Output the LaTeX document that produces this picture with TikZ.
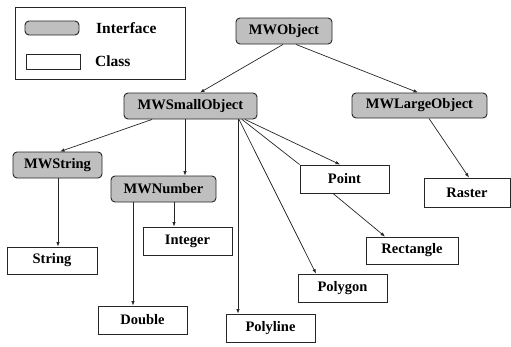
\documentclass[tikz,border=0pt]{standalone}
\usepackage{fontspec}
\IfFontExistsTF{LiberationSerif-Bold.ttf}
  {\newfontfamily\lsb{LiberationSerif-Bold.ttf}}
  {\IfFontExistsTF{TeX Gyre Termes}{\newfontfamily\lsb{TeX Gyre Termes}[UprightFont=*-Bold]}{\newcommand\lsb{\bfseries}}}
\usetikzlibrary{arrows.meta}
\tikzset{
  box/.style={draw=black!85, line width=0.9pt, inner sep=0pt, anchor=center,
    font=\lsb\fontsize{14.5}{16}\selectfont},
  iface/.style={box, fill=black!25, rounded corners=4pt},
  cls/.style={box, fill=white},
  conn/.style={draw=black!85, line width=0.7pt},
  arr/.style={conn, -{Latex[length=4.5pt,width=3.5pt]}},
  legtext/.style={anchor=west, inner sep=0pt, font=\lsb\fontsize{15.5}{17}\selectfont}
}
\begin{document}
\begin{tikzpicture}[x=1pt,y=-1pt]
\useasboundingbox (0,0) rectangle (511,346);
% legend
\node[draw=black!85, line width=0.9pt, minimum width=170pt, minimum height=72pt, inner sep=0pt] (legend) at (100,43) {};
\node[iface, minimum width=54pt, minimum height=14pt] (legI) at (52,28) {};
\node[cls, minimum width=54pt, minimum height=15pt] (legC) at (53,61.5) {};
\node[legtext] (legIt) at (96,28) {Interface};
\node[legtext] (legCt) at (95,61.5) {Class};
% nodes
\node[iface, minimum width=96pt, minimum height=26pt] (obj) at (284,31) {MWObject};
\node[iface, minimum width=133pt, minimum height=26pt] (small) at (190.5,106) {MWSmallObject};
\node[iface, minimum width=135pt, minimum height=25pt] (large) at (419.5,105.5) {MWLargeObject};
\node[iface, minimum width=89pt, minimum height=26pt] (mwstr) at (57.5,165) {MWString};
\node[iface, minimum width=105pt, minimum height=26pt] (mwnum) at (163.5,189) {MWNumber};
\node[cls, minimum width=90pt, minimum height=27pt] (str) at (52,260.5) {String};
\node[cls, minimum width=89pt, minimum height=28pt] (int) at (187.5,241) {Integer};
\node[cls, minimum width=89pt, minimum height=28pt] (dbl) at (142.5,320) {Double};
\node[cls, minimum width=89pt, minimum height=28pt] (pline) at (270.5,328) {Polyline};
\node[cls, minimum width=89pt, minimum height=28pt] (pgon) at (342.5,288) {Polygon};
\node[cls, minimum width=89pt, minimum height=28pt] (point) at (344.5,179) {Point};
\node[cls, minimum width=92pt, minimum height=27pt] (rect) at (412,250.5) {Rectangle};
\node[cls, minimum width=86pt, minimum height=29pt] (raster) at (467,192.5) {Raster};
% connectors
\draw[arr] ([xshift=-1pt]obj.south) -- ([xshift=9.5pt]small.north);
\draw[arr] ([xshift=12pt]obj.south) -- ([xshift=-1.5pt]large.north);
\draw[arr] ([xshift=-38.5pt]small.south) -- ([xshift=2.5pt]mwstr.north);
\draw[arr] ([xshift=-5.5pt]small.south) -- ([xshift=21.5pt]mwnum.north);
\draw[arr] ([xshift=0.5pt]mwstr.south) -- ([xshift=6pt]str.north);
\draw[arr] ([xshift=10.5pt]mwnum.south) -- ([xshift=-13.5pt]int.north);
\draw[arr] ([xshift=-30.5pt]mwnum.south) -- ([xshift=-9.5pt]dbl.north);
\draw[arr] ([xshift=47.5pt]small.south) -- ([xshift=-32.5pt]pline.north);
\draw[arr] ([xshift=48.5pt]small.south) -- ([xshift=-26.5pt]pgon.north);
\draw[conn] ([xshift=51.5pt]small.south) -- (point.north west);
\draw[arr] ([xshift=54.5pt]small.south) -- ([xshift=-4.5pt]point.north);
\draw[arr] ([xshift=-11.5pt]point.south) -- ([xshift=-27pt]rect.north);
\draw[arr] ([xshift=9.5pt]large.south) -- ([xshift=2pt]raster.north);
\end{tikzpicture}
\end{document}
